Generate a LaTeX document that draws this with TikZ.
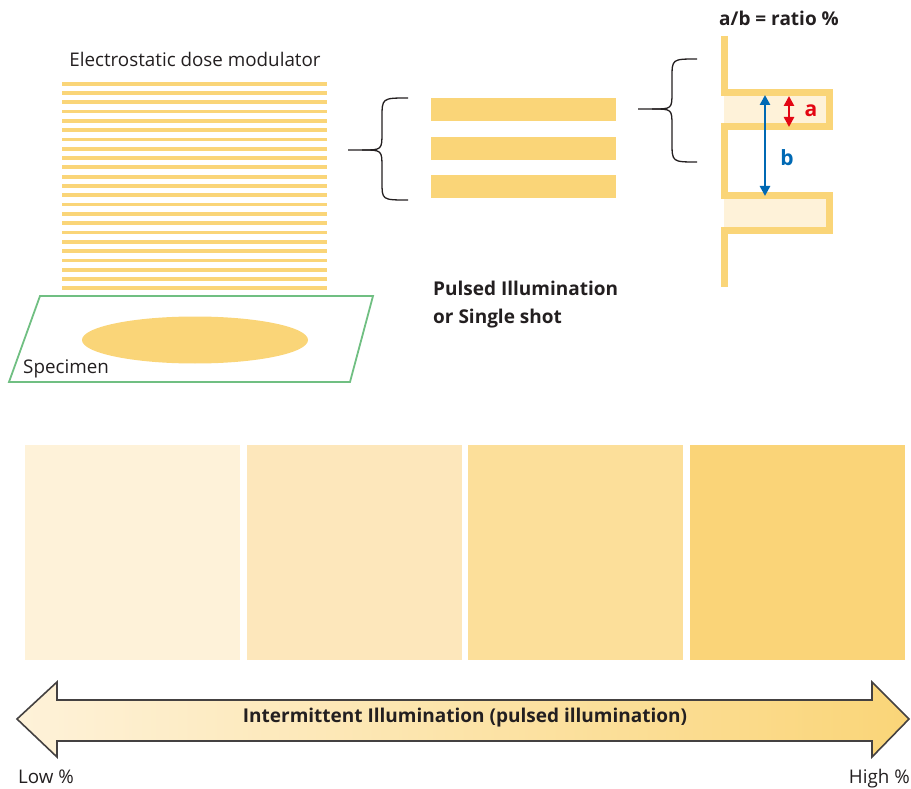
\documentclass[tikz,border=0pt]{standalone}
\usepackage{fontspec}
\setmainfont{Open Sans}
\usetikzlibrary{arrows.meta}
\definecolor{gold}{HTML}{FAD578}
\definecolor{paleyellow}{HTML}{FEF2D9}
\definecolor{shadetwo}{HTML}{FDE7BB}
\definecolor{shadethree}{HTML}{FCDF9A}
\definecolor{shadefour}{HTML}{FAD478}
\definecolor{specgreen}{HTML}{70BF82}
\definecolor{inkgray}{HTML}{231F20}
\definecolor{ared}{HTML}{E30613}
\definecolor{bblue}{HTML}{0069B4}
\begin{document}
\begin{tikzpicture}[x=1pt, y=-1pt,
        bar/.style={fill=gold},
        label/.style={inner sep=0pt, text=inkgray, font=\fontsize{18.8}{22}\selectfont},
        boldlabel/.style={label, font=\fontsize{19}{22}\selectfont\bfseries},
        letter/.style={inner sep=0pt, font=\fontsize{21}{24}\selectfont\bfseries},
        curly/.style={draw=inkgray, line width=1.3pt},
        gap/.style={line width=2.6pt, {Triangle[length=10pt,width=10pt]}-{Triangle[length=10pt,width=10pt]}}
    ]
    \useasboundingbox (0,0) rectangle (911,789);

    % modulator stripes and specimen
    \node[label] (modtitle) at (195,59) {Electrostatic dose modulator};
    \foreach \i in {0,...,22}
        \fill[bar] (62,{81.8+9.3*\i}) rectangle (327,{85.6+9.3*\i});
    \draw[specgreen, line width=1.8pt] (40,296) -- (373,296) -- (350,382) -- (9,382) -- cycle;
    \fill[gold] (195,340) ellipse (113 and 23.5);
    \node[label, anchor=base west] (specimen) at (23,373) {Specimen};

    % three pulses
    \draw[curly] (408,98) .. controls (382,98) .. (382,118) -- (382,132)
        .. controls (382,150) .. (362,150) -- (348,150);
    \draw[curly] (408,200) .. controls (382,200) .. (382,182) -- (382,168)
        .. controls (382,150) .. (362,150);
    \foreach \y in {98,137,175}
        \fill[bar] (431,\y) rectangle (616,\y+23.5);
    \node[boldlabel, anchor=base west] (pulsed) at (433,295) {Pulsed Illumination};
    \node[boldlabel, anchor=base west] (single) at (433,323) {or Single shot};

    % waveform with ratio
    \node[boldlabel] (ratio) at (779,18) {a/b = ratio \%};
    \fill[paleyellow] (724,93) rectangle (829,127);
    \fill[paleyellow] (724,196) rectangle (829,230);
    \draw[gold, line width=7pt] (724,36) -- (724,93) -- (829,93) -- (829,127) -- (724,127)
        -- (724,196) -- (829,196) -- (829,230) -- (724,230) -- (724,287);
    \draw[curly] (697,59) .. controls (672,59) .. (672,78) -- (672,92)
        .. controls (672,109) .. (652,109) -- (638,109);
    \draw[curly] (697,162) .. controls (672,162) .. (672,142) -- (672,126)
        .. controls (672,109) .. (652,109);
    \coordinate (atop) at (789,96);
    \coordinate (abot) at (789,127);
    \coordinate (btop) at (765,95);
    \coordinate (bbot) at (765,196);
    \draw[gap, ared] (atop) -- (abot);
    \draw[gap, bblue] (btop) -- (bbot);
    \node[letter, text=ared] (alabel) at (811,111) {a};
    \node[letter, text=bblue] (blabel) at (787,158) {b};

    % intensity squares
    \fill[paleyellow] (25,445) rectangle (240,660);
    \fill[shadetwo] (247,445) rectangle (462,660);
    \fill[shadethree] (468,445) rectangle (683,660);
    \fill[shadefour] (690,445) rectangle (905,660);

    % scale arrow
    \path[draw=inkgray!85, line width=1.6pt, left color=paleyellow, right color=gold]
        (17,719) -- (57,682) -- (57,700) -- (872,700) -- (872,682) -- (909,719)
        -- (872,757) -- (872,741) -- (57,741) -- (57,757) -- cycle;
    \node[boldlabel] (scale) at (465,718) {Intermittent Illumination (pulsed illumination)};
    \node[label, anchor=base west] (low) at (18,783) {Low \%};
    \node[label, anchor=base east] (high) at (910,783) {High \%};
\end{tikzpicture}
\end{document}
